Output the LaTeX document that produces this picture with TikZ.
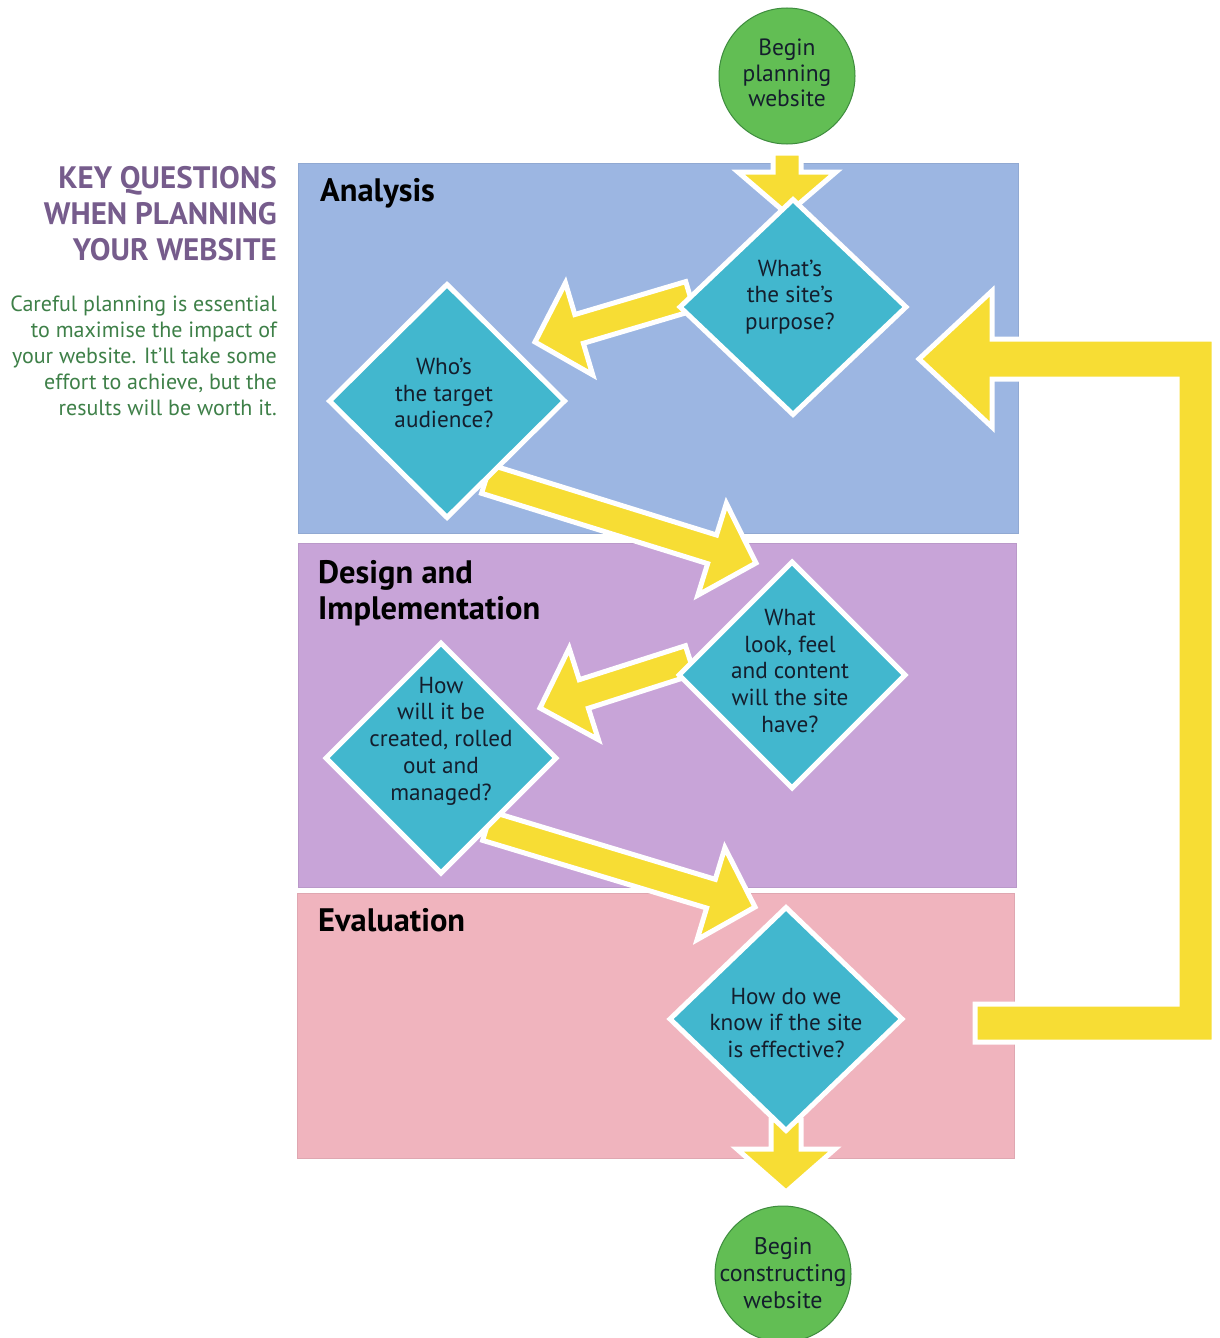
\documentclass[tikz,border=0pt]{standalone}
\usepackage{fontspec}
\setmainfont{PT Sans}
\usetikzlibrary{shapes.geometric,calc}

\definecolor{blueP}{RGB}{156,182,226}
\definecolor{purpleP}{RGB}{200,164,216}
\definecolor{pinkP}{RGB}{240,180,190}
\definecolor{cyanD}{RGB}{66,183,206}
\definecolor{yellowA}{RGB}{247,221,52}
\definecolor{greenC}{RGB}{98,190,84}
\definecolor{greenCd}{RGB}{62,140,62}
\definecolor{titleC}{RGB}{118,92,140}
\definecolor{bodyC}{RGB}{62,128,72}
\definecolor{textD}{RGB}{20,30,45}

% fat yellow arrow: #1 start, #2 tip, #3 shaft half-width, #4 head half-width, #5 head length
\newcommand\fatarrow[5]{%
  \coordinate (fa-h) at ($(#2)!#5!(#1)$);
  \draw[fat] ($(#1)!#3!90:(#2)$) -- ($(fa-h)!#3!90:(#2)$) -- ($(fa-h)!#4!90:(#2)$)
    -- (#2) -- ($(fa-h)!#4!-90:(#2)$) -- ($(fa-h)!#3!-90:(#2)$)
    -- ($(#1)!#3!-90:(#2)$) -- cycle;
}

\tikzset{
  panel/.style={draw=#1!93!black, line width=0.5pt, fill=#1},
  dia/.style={diamond, fill=cyanD, draw=white, line width=5pt, inner sep=0pt},
  qtext/.style={align=center, text=textD, inner sep=0pt,
    font=\fontsize{23.2}{26.8}\selectfont},
  terminal/.style={circle, fill=greenC, draw=greenCd, line width=1pt,
    minimum size=136pt, inner sep=0pt},
  fat/.style={fill=yellowA, draw=white, line width=5pt, line join=miter},
  phase/.style={anchor=base west, inner sep=0pt,
    font=\bfseries\fontsize{32.5}{36}\selectfont},
  titleline/.style={anchor=base east, inner sep=0pt, text=titleC,
    font=\bfseries\fontsize{31}{36}\selectfont},
  bodyline/.style={anchor=base east, inner sep=0pt, text=bodyC,
    font=\fontsize{22}{26}\selectfont},
}

\begin{document}
\begin{tikzpicture}[x=1pt,y=-1pt]
\useasboundingbox (0,0) rectangle (1219,1338);
\fill[white] (0,0) rectangle (1219,1338);

% phase bands
\path[panel=blueP]   (298,163) rectangle (1018,533);
\path[panel=purpleP] (298,543) rectangle (1016,887);
\path[panel=pinkP]   (297,893) rectangle (1014,1158);

\node[phase] (analysis) at (320,201) {Analysis};
\node[phase] (design1) at (318,583) {Design and};
\node[phase] (design2) at (318,619) {Implementation};
\node[phase] (evaluation) at (318,931) {Evaluation};

% side heading and intro
\foreach \t [count=\i] in {KEY QUESTIONS, WHEN PLANNING, YOUR WEBSITE}
  \node[titleline] (title\i) at (277,{188+36*(\i-1)}) {\t};
\foreach \t [count=\i] in {Careful planning is essential, to maximise the impact of,
    your website. It’ll take some, {effort to achieve, but the}, results will be worth it.}
  \node[bodyline] (intro\i) at (277,{311+26*(\i-1)}) {\t};

% node positions
\node[terminal] (start) at (787,76) {};
\node[terminal] (finish) at (783,1274) {};
\coordinate (q1c) at (793,307);
\coordinate (q2c) at (447,401);
\coordinate (q3c) at (792,675);
\coordinate (q4c) at (441,758);
\coordinate (q5c) at (786,1019);

% arrow ends
\coordinate (a0s) at (787,153);
\coordinate (a0t) at (787,214);
\coordinate (a1s) at (690,296);
\coordinate (a1t) at (535,342);
\coordinate (a2s) at (486,479);
\coordinate (a2t) at (756,563);
\coordinate (a3s) at (690,660);
\coordinate (a3t) at (540,708);
\coordinate (a4s) at (487,826);
\coordinate (a4t) at (755,907);
\coordinate (a5s) at (786,1120);
\coordinate (a5t) at (786,1192);
\coordinate (loopstart) at (975,1023);
\coordinate (looptip) at (919,359);

% connectors
\fatarrow{a0s}{a0t}{14pt}{49pt}{42pt}
\fatarrow{a1s}{a1t}{15pt}{48pt}{46pt}
\fatarrow{a2s}{a2t}{15pt}{48pt}{46pt}
\fatarrow{a3s}{a3t}{15pt}{48pt}{46pt}
\fatarrow{a4s}{a4t}{15pt}{48pt}{46pt}
\fatarrow{a5s}{a5t}{15pt}{49pt}{43pt}
\draw[fat] ($(loopstart)+(0,19)$) -| ($(looptip)+(295,-20)$)
  -- ($(looptip)+(73,-20)$) -- ($(looptip)+(73,-68)$) -- (looptip)
  -- ($(looptip)+(73,68)$) -- ($(looptip)+(73,20)$)
  -| ($(loopstart)+(202,-19)$) -- ($(loopstart)+(0,-19)$) -- cycle;

% decisions
\node[dia, minimum width=228pt, minimum height=217pt] (q1) at (q1c) {};
\node[dia, minimum width=237pt, minimum height=235pt] (q2) at (q2c) {};
\node[dia, minimum width=228pt, minimum height=228pt] (q3) at (q3c) {};
\node[dia, minimum width=232pt, minimum height=232pt] (q4) at (q4c) {};
\node[dia, minimum width=234pt, minimum height=225pt] (q5) at (q5c) {};

\node[qtext] (q1t) at (790,297) {What’s\\the site’s\\purpose?};
\node[qtext] (q2t) at (444,393) {Who’s\\the target\\audience?};
\node[qtext] (q3t) at (790,671) {What\\look, feel\\and content\\will the site\\have?};
\node[qtext] (q4t) at (441,741) {How\\will it be\\created, rolled\\out and\\managed?};
\node[qtext] (q5t) at (786,1023) {How do we\\know if the site\\is effective?};

\node[qtext, font=\fontsize{23.5}{25.5}\selectfont] (startt) at (787,73)
  {Begin\\planning\\website};
\node[qtext, font=\fontsize{24}{27}\selectfont] (finisht) at (783,1273)
  {Begin\\constructing\\website};
\end{tikzpicture}
\end{document}
